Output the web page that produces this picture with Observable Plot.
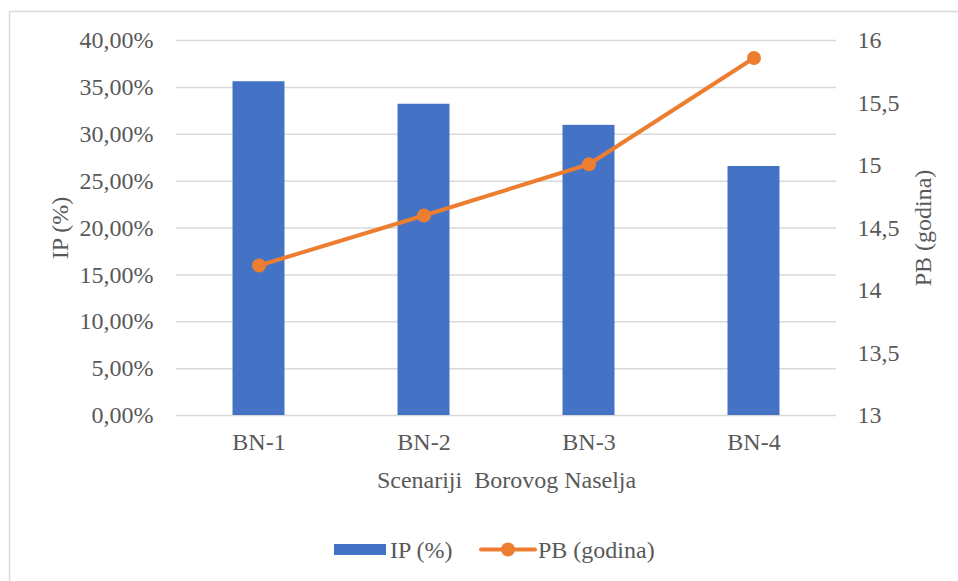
<!DOCTYPE html>
<html>
<head>
<meta charset="utf-8">
<script src="https://cdn.jsdelivr.net/npm/d3@7"></script>
<script src="https://cdn.jsdelivr.net/npm/@observablehq/plot@0.6"></script>
<style>
  html, body { margin: 0; padding: 0; background: #fff; }
  #chart { position: relative; width: 958px; height: 581px; overflow: hidden; }
  #chart svg text { font-family: 'Liberation Serif', 'Times New Roman', serif; }
</style>
</head>
<body>
<div id="chart"></div>
<script>
const categories = ["BN-1", "BN-2", "BN-3", "BN-4"];
const ipValues = [0.356, 0.332, 0.3095, 0.2656];
const pbValues = [14.2, 14.6, 15.01, 15.86];
const leftTicks = [0, 0.05, 0.10, 0.15, 0.20, 0.25, 0.30, 0.35, 0.40];
const rightTicks = [13, 13.5, 14, 14.5, 15, 15.5, 16];
const seriesNames = ["IP (%)", "PB (godina)"];
const xTitle = "Scenariji  Borovog Naselja";
const yLeftTitle = "IP (%)";
const yRightTitle = "PB (godina)";

const PB_MIN = 13, PB_MAX = 16, IP_MAX = 0.4;
const pbToY = v => (v - PB_MIN) / (PB_MAX - PB_MIN) * IP_MAX;
const yToPb = v => v / IP_MAX * (PB_MAX - PB_MIN) + PB_MIN;

const data = categories.map((c, i) => ({cat: c, ip: ipValues[i], pb: pbValues[i], pbY: pbToY(pbValues[i])}));

const BLUE = "#4472C4", ORANGE = "#ED7D31", GRID = "#D9D9D9", TEXT = "#595959";
const FONT = "'Liberation Serif', 'Times New Roman', serif";
const FS = 24;

const W = 958, H = 581;
const chart = Plot.plot({
  width: W,
  height: H,
  marginLeft: 176,
  marginRight: 122,
  marginTop: 40,
  marginBottom: 166,
  style: {fontFamily: FONT, fontSize: FS + "px", color: TEXT, background: "transparent", overflow: "visible"},
  x: {domain: categories, paddingInner: 0.685, paddingOuter: 0.3425, round: false},
  y: {domain: [0, IP_MAX]},
  marks: [
    Plot.ruleY(leftTicks, {stroke: GRID, strokeWidth: 1.5}),
    Plot.barY(data, {x: "cat", y: "ip", fill: BLUE}),
    Plot.line(data, {x: "cat", y: "pbY", stroke: ORANGE, strokeWidth: 4, strokeLinecap: "round", strokeLinejoin: "round"}),
    Plot.dot(data, {x: "cat", y: "pbY", r: 7, fill: ORANGE, stroke: "none"}),
    Plot.axisY(leftTicks, {
      anchor: "left", tickSize: 0, tickPadding: 23,
      tickFormat: v => (v * 100).toFixed(2).replace(".", ",") + "%",
      label: yLeftTitle, labelAnchor: "center", labelArrow: "none", labelOffset: 126,
      fill: TEXT, fontFamily: FONT, fontSize: FS
    }),
    Plot.axisY(rightTicks.map(pbToY), {
      anchor: "right", tickSize: 0, tickPadding: 21,
      tickFormat: v => String(+yToPb(v).toFixed(2)).replace(".", ","),
      label: yRightTitle, labelAnchor: "center", labelArrow: "none", labelOffset: 94,
      fill: TEXT, fontFamily: FONT, fontSize: FS
    }),
    Plot.axisX({
      anchor: "bottom", tickSize: 0, tickPadding: 17,
      label: xTitle, labelAnchor: "center", labelArrow: "none", labelOffset: 72,
      fill: TEXT, fontFamily: FONT, fontSize: FS
    })
  ]
});
document.getElementById("chart").appendChild(chart);

// chart-area border and legend
const svg = d3.select(chart);
svg.insert("rect", ":first-child")
  .attr("x", 9.5).attr("y", 11.5).attr("width", W + 20).attr("height", H + 20)
  .attr("fill", "#fff").attr("stroke", GRID).attr("stroke-width", 1.5);

const lg = svg.append("g").attr("font-family", FONT).attr("font-size", FS).attr("fill", TEXT).attr("text-anchor", "start");
lg.append("rect").attr("x", 334).attr("y", 544).attr("width", 52).attr("height", 11).attr("fill", BLUE);
lg.append("text").attr("x", 390).attr("y", 557.5).text(seriesNames[0]);
lg.append("line").attr("x1", 481).attr("x2", 535).attr("y1", 549.5).attr("y2", 549.5)
  .attr("stroke", ORANGE).attr("stroke-width", 4).attr("stroke-linecap", "round");
lg.append("circle").attr("cx", 508).attr("cy", 549.5).attr("r", 7).attr("fill", ORANGE);
lg.append("text").attr("x", 538).attr("y", 557.5).text(seriesNames[1]);
</script>
</body>
</html>
